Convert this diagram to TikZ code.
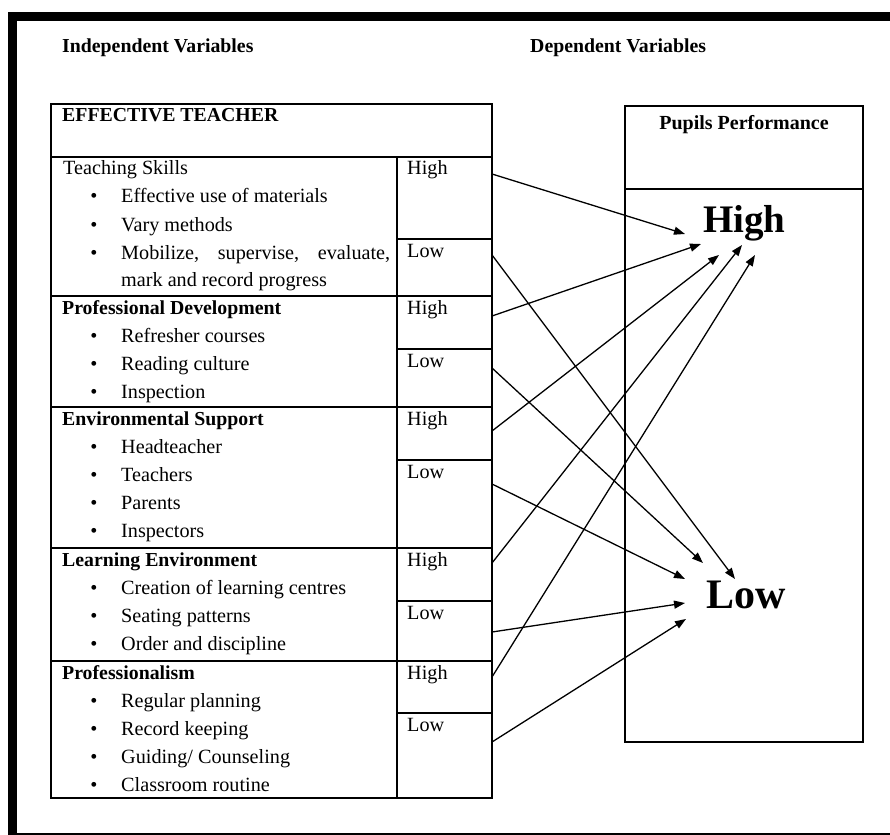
\documentclass[tikz,border=0pt]{standalone}
\usepackage{fontspec}
\setmainfont{Liberation Serif}
\usetikzlibrary{arrows.meta}
\begin{document}
\begin{tikzpicture}[x=1pt,y=-1pt,
  txt/.style={anchor=base west,inner sep=0pt,font=\fontsize{20.2}{24}\selectfont},
  btxt/.style={anchor=base west,inner sep=0pt,font=\fontsize{19.8}{24}\selectfont\bfseries},
  bul/.style={anchor=base,inner sep=0pt,font=\fontsize{20.2}{24}\selectfont},
  cell/.style={draw,line width=1.3pt,inner sep=0pt,anchor=north west,outer sep=0pt},
  big/.style={anchor=base west,inner sep=0pt,font=\bfseries},
  conn/.style={line width=1.3pt,-{Triangle[length=11pt,width=8pt]}}
]
\clip (0,0) rectangle (890,834);
\fill[white] (0,0) rectangle (890,834);
% outer frame
\draw[line width=8.7pt] (12.5,16.3) rectangle (895,837);

% titles
\node[btxt] (indep) at (62,53) {Independent Variables};
\node[btxt] (dep) at (530,53) {Dependent Variables};

% left table cells
\node[cell,minimum width=441pt,minimum height=53pt] (hdr) at (51,104) {};
\node[cell,minimum width=346pt,minimum height=139pt] (ts) at (51,157) {};
\node[cell,minimum width=346pt,minimum height=111pt] (pd) at (51,296) {};
\node[cell,minimum width=346pt,minimum height=141pt] (es) at (51,407) {};
\node[cell,minimum width=346pt,minimum height=113pt] (le) at (51,548) {};
\node[cell,minimum width=346pt,minimum height=137pt] (pr) at (51,661) {};
\node[cell,minimum width=95pt,minimum height=82pt] (tsH) at (397,157) {};
\node[cell,minimum width=95pt,minimum height=57pt] (tsL) at (397,239) {};
\node[cell,minimum width=95pt,minimum height=53pt] (pdH) at (397,296) {};
\node[cell,minimum width=95pt,minimum height=58pt] (pdL) at (397,349) {};
\node[cell,minimum width=95pt,minimum height=53pt] (esH) at (397,407) {};
\node[cell,minimum width=95pt,minimum height=88pt] (esL) at (397,460) {};
\node[cell,minimum width=95pt,minimum height=53pt] (leH) at (397,548) {};
\node[cell,minimum width=95pt,minimum height=60pt] (leL) at (397,601) {};
\node[cell,minimum width=95pt,minimum height=52pt] (prH) at (397,661) {};
\node[cell,minimum width=95pt,minimum height=85pt] (prL) at (397,713) {};

% right box
\node[cell,line width=1.6pt,minimum width=238pt,minimum height=83pt] (pph) at (625,106) {};
\node[cell,line width=1.6pt,minimum width=238pt,minimum height=553pt] (ppb) at (625,189) {};
\node[anchor=base,inner sep=0pt,font=\fontsize{20}{24}\selectfont\bfseries] (pptxt) at (744,130) {Pupils Performance};
\node[big,font=\fontsize{39}{44}\selectfont\bfseries] (bigH) at (703,233) {High};
\node[big,font=\fontsize{42}{48}\selectfont\bfseries] (bigL) at (706,608) {Low};

% table texts
\node[btxt] (t0) at (62,122) {EFFECTIVE TEACHER};

\node[txt] (t1) at (63,175) {Teaching Skills};
\node[bul] (b11) at (94,203) {•}; \node[txt] (t11) at (121,203) {Effective use of materials};
\node[bul] (b12) at (94,231) {•}; \node[txt] (t12) at (121,231) {Vary methods};
\node[bul] (b13) at (94,259) {•}; \node[txt] (t13) at (121,259) {\makebox[269pt][s]{Mobilize,\hfill supervise,\hfill evaluate,}};
\node[txt] (t14) at (121,286) {mark and record progress};

\node[btxt] (t2) at (62,314) {Professional Development};
\node[bul] (b21) at (94,342) {•}; \node[txt] (t21) at (121,342) {Refresher courses};
\node[bul] (b22) at (94,370) {•}; \node[txt] (t22) at (121,370) {Reading culture};
\node[bul] (b23) at (94,398) {•}; \node[txt] (t23) at (121,398) {Inspection};

\node[btxt] (t3) at (62,425) {Environmental Support};
\node[bul] (b31) at (94,453) {•}; \node[txt] (t31) at (121,453) {Headteacher};
\node[bul] (b32) at (94,481) {•}; \node[txt] (t32) at (121,481) {Teachers};
\node[bul] (b33) at (94,509) {•}; \node[txt] (t33) at (121,509) {Parents};
\node[bul] (b34) at (94,537) {•}; \node[txt] (t34) at (121,537) {Inspectors};

\node[btxt] (t4) at (62,566) {Learning Environment};
\node[bul] (b41) at (94,594) {•}; \node[txt] (t41) at (121,594) {Creation of learning centres};
\node[bul] (b42) at (94,622) {•}; \node[txt] (t42) at (121,622) {Seating patterns};
\node[bul] (b43) at (94,650) {•}; \node[txt] (t43) at (121,650) {Order and discipline};

\node[btxt] (t5) at (62,679) {Professionalism};
\node[bul] (b51) at (94,707) {•}; \node[txt] (t51) at (121,707) {Regular planning};
\node[bul] (b52) at (94,735) {•}; \node[txt] (t52) at (121,735) {Record keeping};
\node[bul] (b53) at (94,763) {•}; \node[txt] (t53) at (121,763) {Guiding/ Counseling};
\node[bul] (b54) at (94,791) {•}; \node[txt] (t54) at (121,791) {Classroom routine};

% High / Low labels
\node[txt] (l1) at (407,175) {High};
\node[txt] (l2) at (407,257) {Low};
\node[txt] (l3) at (407,314) {High};
\node[txt] (l4) at (407,367) {Low};
\node[txt] (l5) at (407,425) {High};
\node[txt] (l6) at (407,478) {Low};
\node[txt] (l7) at (407,566) {High};
\node[txt] (l8) at (407,619) {Low};
\node[txt] (l9) at (407,679) {High};
\node[txt] (l10) at (407,731) {Low};

% connector end points
\coordinate (s1) at (492,174);  \coordinate (e1) at (685,234);
\coordinate (s2) at (492,255);  \coordinate (e2) at (735,579);
\coordinate (s3) at (492,316);  \coordinate (e3) at (701,244);
\coordinate (s4) at (492,368);  \coordinate (e4) at (703,563);
\coordinate (s5) at (492,431);  \coordinate (e5) at (719,255);
\coordinate (s6) at (492,484);  \coordinate (e6) at (685,579);
\coordinate (s7) at (492,563);  \coordinate (e7) at (742,245);
\coordinate (s8) at (492,632);  \coordinate (e8) at (685,603);
\coordinate (s9) at (492,677);  \coordinate (e9) at (755,255);
\coordinate (s10) at (492,742); \coordinate (e10) at (686,619);

\foreach \i in {1,...,10} { \draw[conn] (s\i) -- (e\i); }
\end{tikzpicture}
\end{document}
